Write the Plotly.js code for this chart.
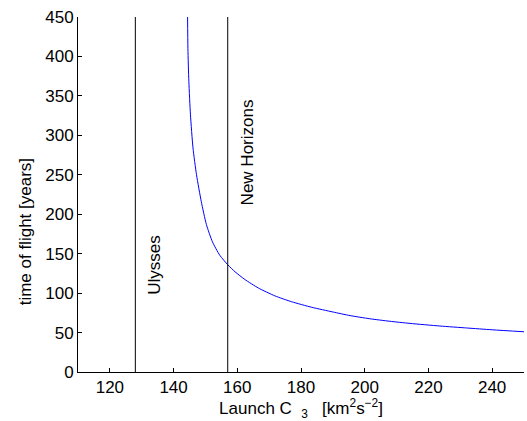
<!DOCTYPE html>
<html>
<head>
<meta charset="utf-8">
<script src="https://cdn.plot.ly/plotly-3.0.1.min.js"></script>
<style>html,body{margin:0;padding:0;background:#fff;}#chart{width:527px;height:421px;}</style>
</head>
<body>
<div id="chart"></div>
<script>
// Curve: time of flight vs launch C3
var launchC3 = [144.4, 144.5, 144.8, 145.3, 146.1, 147.2, 148.7, 150.3, 152.2, 154.5, 157.0, 159.3, 162.4, 166.6, 171.8, 177.1, 183.4, 190.0, 195.4, 201.6, 207.9, 214.2, 223.6, 232.0, 240.0, 250.0];
var timeOfFlight = [450, 410, 368, 326, 284, 250, 216, 187, 165, 148, 136, 127, 117.2, 106.5, 96.5, 89.0, 82.0, 76.1, 71.5, 67.5, 64.3, 61.6, 58.3, 55.8, 53.5, 51];

// Reference missions
var missionNames = ["Ulysses", "New Horizons"];
var missionC3 = [128, 157];
var labelX = [133.8, 163.2];
var labelY = [135.6, 279];

// Axis texts
var xTitle = "Launch C&nbsp;&nbsp;<sub>3</sub>&nbsp;&nbsp;&nbsp;[km<sup>2</sup>s<sup>−2</sup>]";
var yTitle = "time of flight [years]";

var yMax = 450;

var traces = [{
  x: launchC3, y: timeOfFlight, type: "scatter", mode: "lines",
  line: {color: "#0000ff", width: 1, shape: "spline", smoothing: 0.6},
  hoverinfo: "skip"
}];
missionC3.forEach(function (c) {
  traces.push({x: [c, c], y: [0, yMax], type: "scatter", mode: "lines",
    line: {color: "#000000", width: 1}, hoverinfo: "skip"});
});

var font = {family: "Liberation Sans, Arial, Helvetica, sans-serif", size: 17, color: "#000"};

var annotations = missionNames.map(function (n, i) {
  return {x: labelX[i], y: labelY[i], xref: "x", yref: "y", text: n, showarrow: false,
    textangle: -90, xanchor: "center", yanchor: "middle", font: font};
});
annotations.push({x: -0.119, y: 0.396, xref: "paper", yref: "paper", text: yTitle,
  showarrow: false, textangle: -90, xanchor: "center", yanchor: "middle", font: font});

var layout = {
  width: 527, height: 421,
  margin: {l: 78, r: 3, t: 17, b: 49, pad: 0},
  paper_bgcolor: "#fff", plot_bgcolor: "#fff",
  showlegend: false,
  font: font,
  xaxis: {
    range: [110, 250], tickmode: "linear", tick0: 120, dtick: 20,
    ticks: "inside", ticklen: 4, tickcolor: "#000", tickwidth: 1,
    showline: true, linecolor: "#000", linewidth: 1, mirror: false,
    showgrid: false, zeroline: false,
    tickfont: font,
    title: {text: xTitle, font: font, standoff: 2}
  },
  yaxis: {
    range: [0, 450], tickmode: "linear", tick0: 0, dtick: 50,
    ticks: "inside", ticklen: 4, tickcolor: "#000", tickwidth: 1,
    showline: true, linecolor: "#000", linewidth: 1, mirror: false,
    showgrid: false, zeroline: false,
    tickfont: font
  },
  annotations: annotations
};

Plotly.newPlot("chart", traces, layout, {displayModeBar: false, staticPlot: true});
</script>
</body>
</html>
